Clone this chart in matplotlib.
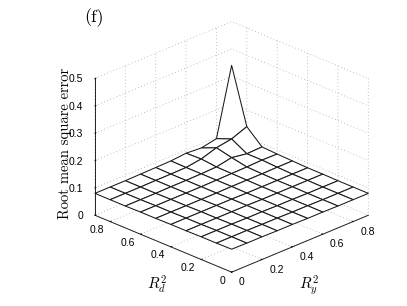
import numpy as np
import matplotlib
matplotlib.use("Agg")
import matplotlib.pyplot as plt

ry = [0.0, 0.1, 0.2, 0.3, 0.4, 0.5, 0.6, 0.7, 0.8, 0.9]
rd = [0.0, 0.1, 0.2, 0.3, 0.4, 0.5, 0.6, 0.7, 0.8, 0.9]
# rows follow rd, columns follow ry
rmse = [
    [0.084, 0.083, 0.083, 0.082, 0.082, 0.081, 0.081, 0.080, 0.080, 0.080],
    [0.083, 0.083, 0.083, 0.082, 0.082, 0.081, 0.081, 0.080, 0.080, 0.080],
    [0.083, 0.083, 0.083, 0.082, 0.082, 0.081, 0.081, 0.080, 0.080, 0.080],
    [0.082, 0.082, 0.082, 0.082, 0.082, 0.081, 0.081, 0.081, 0.081, 0.081],
    [0.082, 0.082, 0.082, 0.082, 0.082, 0.081, 0.081, 0.081, 0.081, 0.081],
    [0.081, 0.081, 0.081, 0.081, 0.081, 0.082, 0.082, 0.082, 0.083, 0.083],
    [0.081, 0.081, 0.081, 0.081, 0.081, 0.082, 0.083, 0.084, 0.086, 0.085],
    [0.080, 0.080, 0.080, 0.081, 0.081, 0.082, 0.084, 0.095, 0.086, 0.088],
    [0.080, 0.080, 0.080, 0.081, 0.081, 0.082, 0.090, 0.108, 0.117, 0.139],
    [0.080, 0.080, 0.080, 0.081, 0.082, 0.083, 0.088, 0.084, 0.095, 0.340],
]
axis_max = 0.9
z_max = 0.5
tick_xy = [0, 0.2, 0.4, 0.6, 0.8]
tick_xy_labels = ["0", "0.2", "0.4", "0.6", "0.8"]
tick_z = [0, 0.1, 0.2, 0.3, 0.4, 0.5]
tick_z_labels = ["0", "0.1", "0.2", "0.3", "0.4", "0.5"]

plt.rcParams["font.family"] = ["Liberation Sans", "DejaVu Sans"]
plt.rcParams["mathtext.fontset"] = "cm"

fig = plt.figure(figsize=(4.07, 3.06), dpi=100)
ax = fig.add_axes([24 / 407, 2 / 306, 1.0, 1.0], projection="3d", proj_type="ortho")
ax.view_init(elev=24.6, azim=-135)
ax.set_box_aspect((1, 1, 0.778), zoom=0.99)
X, Y = np.meshgrid(ry, rd)
Z = np.array(rmse)
ax.plot_surface(X, Y, Z, rstride=1, cstride=1, color="white", shade=False,
                edgecolor="#1a1a1a", linewidth=0.75, antialiased=True)
ax.set_xlim(0, axis_max)
ax.set_ylim(0, axis_max)
ax.set_zlim(0, z_max)
ax.set_xticks(tick_xy, tick_xy_labels, fontsize=7.5)
ax.set_yticks(tick_xy, tick_xy_labels, fontsize=7.5)
ax.set_zticks(tick_z, tick_z_labels, fontsize=7.5)
for a in (ax.xaxis, ax.yaxis, ax.zaxis):
    a.set_pane_color((1, 1, 1, 0))
    a.pane.set_edgecolor((1, 1, 1, 0))
    a.line.set_color("#222222")
    a.line.set_linewidth(0.7)
    a._axinfo["grid"].update(color="#aaaaaa", linewidth=0.6, linestyle=(0, (1, 3)))
    a._axinfo["tick"].update(inward_factor=0.0, outward_factor=0.1, linewidth={True: 0.6, False: 0.6})
ax.tick_params(axis="x", pad=-2)
ax.tick_params(axis="y", pad=-3)
ax.tick_params(axis="z", pad=-3)

for lab in ax.xaxis.get_ticklabels():
    lab.set_ha("left")
    lab.set_va("center")
for lab in ax.yaxis.get_ticklabels():
    lab.set_ha("right")
    lab.set_va("center")
for lab in ax.zaxis.get_ticklabels():
    lab.set_ha("right")
    lab.set_va("center_baseline")

fig.text(84, 306 - 18, "(f)", transform=None, fontfamily="cmr10", fontsize=13, ha="left", va="center")
fig.text(65, 306 - 143, "Root mean square error", transform=None, fontfamily="cmr10",
         fontsize=10.5, rotation=90, ha="center", va="center")
fig.text(157, 306 - 285, r"$R_d^2$", transform=None, fontsize=11, ha="center", va="center")
fig.text(309, 306 - 285, r"$R_y^2$", transform=None, fontsize=11, ha="center", va="center")
fig.savefig("out.png", dpi=100)
